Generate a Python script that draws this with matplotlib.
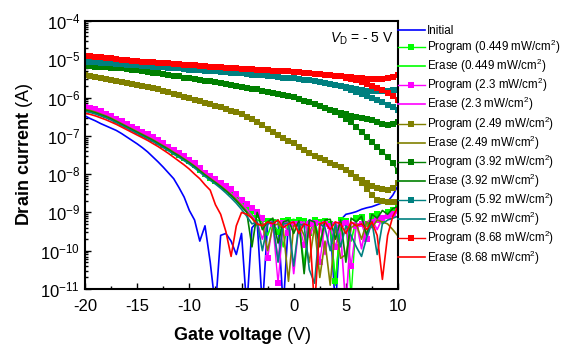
import numpy as np
import matplotlib
matplotlib.use("Agg")
import matplotlib.pyplot as plt
from matplotlib.ticker import LogLocator, NullFormatter, MultipleLocator

plt.rcParams['font.family'] = ['Liberation Sans', 'DejaVu Sans']
plt.rcParams['mathtext.fontset'] = 'custom'
plt.rcParams['mathtext.rm'] = 'Liberation Sans'
plt.rcParams['mathtext.it'] = 'Liberation Sans:italic'
plt.rcParams['mathtext.bf'] = 'Liberation Sans:bold'
plt.rcParams['axes.unicode_minus'] = False

# gate sweep, -20 V .. 10 V in 0.5 V steps
gate_v = np.arange(-20, 10.25, 0.5)

# drain current, stored as log10(I / A)
log_initial = [
    -6.48, -6.55, -6.61, -6.68, -6.74, -6.80, -6.86, -6.94, -7.03, -7.12,
    -7.21, -7.31, -7.42, -7.55, -7.68, -7.82, -7.97, -8.12, -8.35, -8.60,
    -8.95, -9.20, -9.75, -9.35, -10.3, -11.5, -9.60, -9.55, -9.75, -10.1,
    -9.55, -11.5, -9.40, -9.25, -11.5, -9.30, -9.25, -9.20, -11.5, -9.20,
    -9.22, -9.20, -9.35, -9.20, -9.25, -9.20, -9.22, -9.30, -11.5, -9.20,
    -9.05, -9.02, -8.98, -8.92, -8.88, -8.85, -8.80, -8.75, -8.72, -8.55,
    -8.30]

log_prog_0449 = [
    -6.28, -6.31, -6.35, -6.40, -6.46, -6.52, -6.59, -6.66, -6.73, -6.80,
    -6.87, -6.94, -7.01, -7.08, -7.16, -7.24, -7.32, -7.41, -7.49, -7.58,
    -7.67, -7.77, -7.88, -7.99, -8.09, -8.18, -8.27, -8.36, -8.46, -8.58,
    -8.72, -8.85, -8.97, -9.08, -9.18, -9.22, -9.25, -9.50, -9.22, -9.20,
    -9.25, -9.20, -9.22, -9.55, -9.20, -9.25, -9.22, -9.30, -10.8, -9.20,
    -9.22, -11.2, -9.15, -9.12, -9.30, -9.10, -9.05, -9.20, -8.98, -8.95,
    -8.85]
log_erase_0449 = [
    -6.30, -6.33, -6.37, -6.42, -6.47, -6.53, -6.60, -6.67, -6.74, -6.81,
    -6.88, -6.95, -7.02, -7.09, -7.17, -7.25, -7.33, -7.42, -7.50, -7.59,
    -7.68, -7.78, -7.89, -8.00, -8.10, -8.20, -8.30, -8.41, -8.53, -8.66,
    -8.80, -8.93, -9.05, -9.20, -9.25, -9.60, -9.22, -9.20, -9.90, -9.22,
    -9.18, -9.25, -10.4, -9.25, -9.20, -9.80, -9.22, -9.30, -10.9, -9.25,
    -9.20, -9.75, -9.18, -9.15, -9.60, -9.10, -9.05, -9.30, -9.00, -8.95,
    -8.85]

log_prog_23 = [
    -6.24, -6.27, -6.31, -6.36, -6.42, -6.48, -6.55, -6.62, -6.69, -6.76,
    -6.83, -6.90, -6.96, -7.03, -7.12, -7.20, -7.28, -7.37, -7.45, -7.53,
    -7.62, -7.72, -7.84, -7.96, -8.05, -8.14, -8.22, -8.30, -8.39, -8.53,
    -8.68, -8.78, -8.88, -8.98, -9.15, -10.2, -9.30, -10.85, -9.28, -9.55,
    -9.30, -9.30, -9.85, -9.30, -9.28, -10.3, -9.30, -9.35, -9.90, -9.30,
    -9.28, -10.4, -9.35, -9.30, -9.70, -9.25, -9.20, -9.15, -9.10, -9.05,
    -8.95]
log_erase_23 = [
    -6.27, -6.30, -6.34, -6.39, -6.45, -6.51, -6.58, -6.65, -6.72, -6.79,
    -6.86, -6.93, -7.00, -7.07, -7.15, -7.23, -7.31, -7.40, -7.48, -7.57,
    -7.66, -7.76, -7.87, -7.98, -8.08, -8.18, -8.28, -8.38, -8.50, -8.63,
    -8.77, -8.92, -9.10, -9.25, -9.70, -9.28, -9.30, -10.2, -9.28, -9.25,
    -10.6, -9.30, -9.25, -9.65, -9.28, -9.25, -10.1, -9.30, -9.25, -9.55,
    -11.5, -9.30, -9.25, -9.95, -9.25, -9.20, -9.45, -9.15, -9.10, -9.05,
    -9.00]

log_prog_249 = [
    -5.41, -5.43, -5.46, -5.48, -5.51, -5.53, -5.56, -5.59, -5.61, -5.64,
    -5.67, -5.70, -5.73, -5.76, -5.79, -5.83, -5.86, -5.90, -5.94, -5.98,
    -6.02, -6.06, -6.10, -6.14, -6.18, -6.22, -6.26, -6.31, -6.35, -6.39,
    -6.43, -6.50, -6.57, -6.65, -6.73, -6.81, -6.89, -6.97, -7.05, -7.13,
    -7.20, -7.29, -7.38, -7.45, -7.52, -7.58, -7.64, -7.70, -7.75, -7.81,
    -7.89, -7.98, -8.07, -8.15, -8.23, -8.31, -8.37, -8.40, -8.41, -8.36,
    -8.24]
# return branch of the sweep, from 10 V going back
back_prog_249 = [-8.72, -8.72, -8.72, -8.71, -8.67, -8.54, -8.38, -8.22, -8.10, -7.99]
log_erase_249 = [
    -6.31, -6.34, -6.38, -6.43, -6.48, -6.54, -6.61, -6.68, -6.75, -6.82,
    -6.89, -6.96, -7.03, -7.10, -7.18, -7.26, -7.34, -7.43, -7.51, -7.60,
    -7.69, -7.79, -7.90, -8.01, -8.11, -8.21, -8.31, -8.42, -8.54, -8.67,
    -8.82, -8.98, -9.15, -9.35, -9.28, -10.0, -9.35, -9.30, -9.45, -10.8,
    -9.35, -9.30, -9.60, -10.3, -9.35, -10.7, -9.75, -10.9, -9.35, -10.2,
    -10.1, -9.40, -9.30, -9.70, -9.25, -9.40, -9.20, -9.25, -9.30, -9.45,
    -9.62]

log_prog_392 = [
    -5.17, -5.18, -5.19, -5.20, -5.21, -5.22, -5.23, -5.24, -5.26, -5.27,
    -5.29, -5.31, -5.33, -5.35, -5.37, -5.39, -5.41, -5.43, -5.45, -5.48,
    -5.50, -5.52, -5.54, -5.56, -5.58, -5.60, -5.62, -5.64, -5.67, -5.69,
    -5.72, -5.74, -5.77, -5.79, -5.82, -5.85, -5.88, -5.90, -5.93, -5.95,
    -5.98, -6.03, -6.08, -6.13, -6.17, -6.22, -6.27, -6.32, -6.36, -6.40,
    -6.44, -6.47, -6.50, -6.53, -6.56, -6.59, -6.63, -6.68, -6.72, -6.70,
    -6.63]
back_prog_392 = [-7.93, -7.72, -7.55, -7.42, -7.29, -7.16, -7.03, -6.90, -6.77,
                 -6.65, -6.55, -6.46, -6.38]
log_erase_392 = [
    -6.33, -6.36, -6.40, -6.45, -6.50, -6.56, -6.63, -6.70, -6.77, -6.84,
    -6.91, -6.98, -7.05, -7.12, -7.20, -7.28, -7.36, -7.45, -7.53, -7.62,
    -7.71, -7.81, -7.92, -8.03, -8.13, -8.23, -8.33, -8.44, -8.56, -8.70,
    -8.85, -9.00, -9.90, -9.00, -9.45, -9.25, -9.15, -9.80, -9.25, -9.20,
    -9.55, -9.22, -10.6, -9.20, -9.25, -9.90, -9.20, -9.18, -9.70, -9.20,
    -10.3, -9.15, -9.25, -9.10, -9.60, -9.05, -9.15, -8.95, -9.05, -8.90,
    -8.85]

log_prog_592 = [
    -5.06, -5.07, -5.08, -5.09, -5.10, -5.11, -5.12, -5.13, -5.14, -5.15,
    -5.16, -5.17, -5.18, -5.19, -5.20, -5.21, -5.22, -5.23, -5.24, -5.25,
    -5.27, -5.28, -5.29, -5.30, -5.31, -5.32, -5.33, -5.34, -5.35, -5.36,
    -5.37, -5.38, -5.40, -5.41, -5.42, -5.44, -5.45, -5.46, -5.48, -5.49,
    -5.50, -5.52, -5.53, -5.55, -5.57, -5.59, -5.61, -5.64, -5.66, -5.69,
    -5.72, -5.75, -5.78, -5.80, -5.82, -5.84, -5.84, -5.83, -5.82, -5.81,
    -5.80]
back_prog_592 = [-6.32, -6.25, -6.19, -6.12, -6.06, -6.01, -5.96, -5.91, -5.86,
                 -5.81, -5.76, -5.71]
log_erase_592 = [
    -6.36, -6.39, -6.43, -6.48, -6.53, -6.59, -6.66, -6.73, -6.80, -6.87,
    -6.94, -7.01, -7.08, -7.15, -7.23, -7.31, -7.39, -7.48, -7.56, -7.65,
    -7.74, -7.84, -7.95, -8.06, -8.16, -8.26, -8.37, -8.49, -8.62, -8.76,
    -8.92, -9.10, -9.30, -9.25, -10.0, -9.30, -9.25, -10.3, -9.30, -9.28,
    -10.4, -9.30, -9.35, -10.5, -10.85, -9.30, -9.40, -10.0, -9.30, -9.90,
    -9.35, -9.60, -9.90, -10.15, -9.65, -9.25, -10.1, -9.30, -9.20, -9.15,
    -9.10]

log_prog_868 = [
    -4.91, -4.92, -4.94, -4.95, -4.96, -4.98, -4.99, -5.01, -5.02, -5.04,
    -5.05, -5.06, -5.07, -5.08, -5.09, -5.10, -5.11, -5.12, -5.13, -5.14,
    -5.15, -5.16, -5.17, -5.18, -5.19, -5.20, -5.21, -5.22, -5.23, -5.24,
    -5.25, -5.26, -5.26, -5.27, -5.28, -5.29, -5.30, -5.30, -5.31, -5.32,
    -5.33, -5.34, -5.35, -5.37, -5.38, -5.39, -5.40, -5.42, -5.43, -5.44,
    -5.46, -5.47, -5.48, -5.50, -5.51, -5.52, -5.52, -5.52, -5.50, -5.47,
    -5.42]
back_prog_868 = [-6.06, -5.96, -5.88, -5.81, -5.75, -5.70, -5.64, -5.59, -5.55,
                 -5.51, -5.48, -5.45]
log_erase_868 = [
    -6.41, -6.44, -6.48, -6.53, -6.58, -6.64, -6.70, -6.77, -6.84, -6.91,
    -6.98, -7.05, -7.12, -7.20, -7.28, -7.37, -7.46, -7.56, -7.66, -7.76,
    -7.87, -8.00, -8.12, -8.28, -8.42, -8.80, -9.05, -9.50, -10.15, -9.35,
    -9.00, -9.05, -9.15, -9.30, -9.35, -9.25, -9.30, -9.20, -9.40, -9.30,
    -9.25, -9.55, -9.30, -9.35, -11.5, -9.30, -9.25, -9.45, -9.25, -9.30,
    -9.55, -9.25, -9.35, -9.30, -9.45, -9.25, -9.60, -10.75, -9.60, -9.10,
    -8.85]

intensities = ['0.449', '2.3', '2.49', '3.92', '5.92', '8.68']
colors = ['#00ff00', '#ff00ff', '#808000', '#008000', '#008080', '#ff0000']
prog_fwd = [log_prog_0449, log_prog_23, log_prog_249, log_prog_392, log_prog_592, log_prog_868]
prog_back = [[], [], back_prog_249, back_prog_392, back_prog_592, back_prog_868]
erase = [log_erase_0449, log_erase_23, log_erase_249, log_erase_392, log_erase_592, log_erase_868]

fig = plt.figure(figsize=(5.63, 3.49), dpi=100)
ax = fig.add_axes([0.151, 0.172, 0.556, 0.768])

ax.plot(gate_v, 10.0 ** np.array(log_initial), color='#0000ff', lw=1.2, label='Initial')

for name, col, fwd, back, er in zip(intensities, colors, prog_fwd, prog_back, erase):
    v = np.concatenate([gate_v, gate_v[::-1][:len(back)]])
    i = 10.0 ** np.array(list(fwd) + list(back))
    ax.plot(v, i, color=col, lw=1.0, marker='s', ms=4.3, mew=0,
            label='Program (%s mW/cm$^2$)' % name)
    ax.plot(gate_v, 10.0 ** np.array(er), color=col, lw=1.2,
            label='Erase (%s mW/cm$^2$)' % name)

ax.set_yscale('log')
ax.set_xlim(-20, 10)
ax.set_ylim(1e-11, 1e-4)
ax.xaxis.set_major_locator(MultipleLocator(5))
ax.xaxis.set_minor_locator(MultipleLocator(2.5))
ax.yaxis.set_major_locator(LogLocator(base=10, numticks=20))
ax.yaxis.set_minor_locator(LogLocator(base=10, subs=np.arange(2, 10), numticks=100))
ax.yaxis.set_minor_formatter(NullFormatter())
ax.tick_params(which='both', direction='in', labelsize=12, width=1)
ax.tick_params(which='major', length=4)
ax.tick_params(which='minor', length=2)
ax.tick_params(axis='x', pad=7)
for s in ax.spines.values():
    s.set_linewidth(1.5)

ax.set_xlabel(r'$\mathbf{Gate\ voltage}$ (V)', fontsize=13, labelpad=8)
ax.set_ylabel(r'$\mathbf{Drain\ current}$ (A)', fontsize=13, labelpad=4)
ax.text(0.985, 0.935, r'$V_{\mathrm{D}}$ = - 5 V', transform=ax.transAxes,
        ha='right', va='center', fontsize=10)

ax.legend(loc='upper left', bbox_to_anchor=(1.0, 0.985), frameon=False,
          fontsize=8.4, handlelength=2.3, handletextpad=0.2, labelspacing=0.08,
          borderaxespad=0, borderpad=0)

fig.savefig('out.png', dpi=100)
